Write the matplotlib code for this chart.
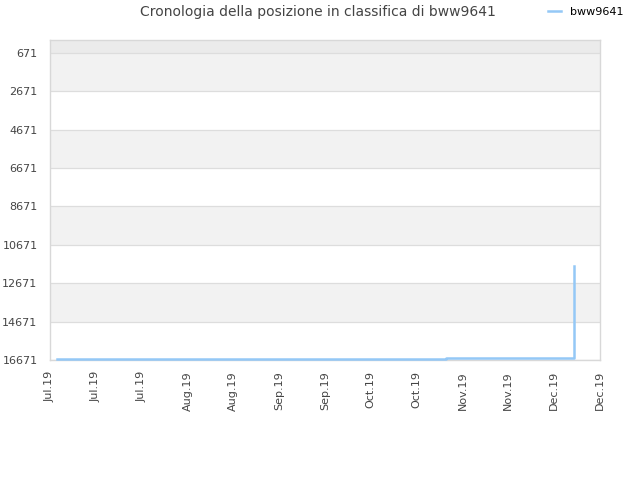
import matplotlib
matplotlib.use("Agg")
import matplotlib.pyplot as plt
import matplotlib.dates as mdates
import numpy as np
import pandas as pd

title = "Cronologia della posizione in classifica di bww9641"
series_name = "bww9641"
dates = pd.to_datetime(["2019-07-03", "2019-08-12", "2019-10-30", "2019-12-08"])
ranks = [16634, 16603, 16551, 11772]
y_ticks = [671, 2671, 4671, 6671, 8671, 10671, 12671, 14671, 16671]
x_ticks = pd.date_range("2019-07-01", periods=13, freq="14D")

fig = plt.figure(figsize=(6.4, 4.8), dpi=100)
ax = fig.add_axes([50/640, 120/480, 550/640, 320/480])

y_top, y_bottom = 0, 16671
ax.set_ylim(y_bottom, y_top)
ax.set_xlim(x_ticks[0], x_ticks[-1])

# background bands
ax.axhspan(y_top, y_ticks[0], color="#ebebeb", zorder=0, lw=0)
for i in range(0, len(y_ticks) - 1, 2):
    ax.axhspan(y_ticks[i], y_ticks[i + 1], color="#f2f2f2", zorder=0, lw=0)
for t in y_ticks:
    ax.axhline(t, color="#dddddd", lw=0.9, zorder=1)

ax.plot(dates, ranks, drawstyle="steps-post", color="#94c8f6", lw=1.8,
        label=series_name, zorder=3, clip_on=False)

ax.set_yticks(y_ticks)
ax.set_yticklabels([str(t) for t in y_ticks])
ax.set_xticks(x_ticks)
ax.xaxis.set_major_formatter(mdates.DateFormatter("%b.%y"))
for lbl in ax.get_xticklabels():
    lbl.set_rotation(90)
ax.tick_params(axis="both", length=0, labelsize=8, labelcolor="#444444")
ax.tick_params(axis="y", pad=9)
ax.tick_params(axis="x", pad=8)
for s in ax.spines.values():
    s.set_color("#d8d8d8")
    s.set_linewidth(1)

fig.text(318/640, 1 - 12/480, title, ha="center", va="center", fontsize=10, color="#444444")
fig.legend(loc="center left", bbox_to_anchor=(548/640, 1 - 12/480), frameon=False,
           fontsize=8, handlelength=1.2, handletextpad=0.8, borderaxespad=0, borderpad=0)

fig.savefig("out.png", dpi=100)
